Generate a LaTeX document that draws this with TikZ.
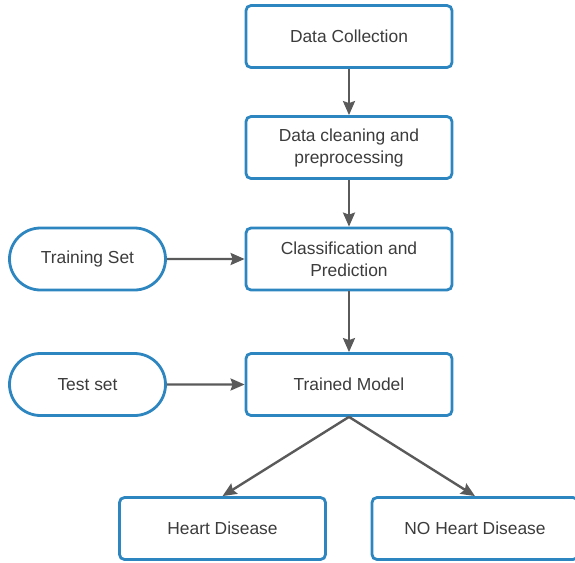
\documentclass[tikz,border=0pt]{standalone}
\usepackage{fontspec}
\setmainfont{Liberation Sans}
\usepackage{tikz}
\usetikzlibrary{arrows.meta,shapes.misc}
\usepackage{xcolor}

\definecolor{boxblue}{RGB}{46,134,193}
\definecolor{textgray}{RGB}{60,60,60}
\definecolor{arrowgray}{RGB}{90,90,90}

\tikzset{
  stepbox/.style={draw=boxblue, line width=1.4pt, rounded corners=2.5pt, fill=white,
    minimum width=103pt, minimum height=31pt, align=center, text=textgray,
    font=\fontsize{8.7}{11}\selectfont, inner sep=2pt},
  setbox/.style={draw=boxblue, line width=1.4pt, rounded rectangle, fill=white,
    minimum width=82pt, minimum height=31pt, align=center, text=textgray,
    font=\fontsize{8.7}{11}\selectfont, inner sep=2pt},
  flow/.style={draw=arrowgray, line width=1.2pt, -{Stealth[length=7pt,width=6pt,inset=1pt]}}
}

\begin{document}
\begin{tikzpicture}[x=0.5pt,y=-0.5pt]

  \useasboundingbox (0,0) rectangle (575,563);

  \coordinate (DC) at (349,36.5);
  \coordinate (CL) at (349,147.5);
  \coordinate (CP) at (349,259);
  \coordinate (TM) at (349,384.5);
  \coordinate (TS) at (87.5,259);
  \coordinate (TE) at (87.5,384.5);
  \coordinate (HD) at (222.5,528.5);
  \coordinate (NH) at (475,528.5);

  \node[stepbox] (collect) at (DC) {Data Collection};
  \node[stepbox] (clean) at (CL) {Data cleaning and\\preprocessing};
  \node[stepbox] (classify) at (CP) {Classification and\\Prediction};
  \node[stepbox] (model) at (TM) {Trained Model};
  \node[setbox] (trainset) at (TS) {Training Set};
  \node[setbox] (testset) at (TE) {Test set};
  \node[stepbox] (heart) at (HD) {Heart Disease};
  \node[stepbox] (noheart) at (NH) {NO Heart Disease};

  \draw[flow] (collect) -- (clean);
  \draw[flow] (clean) -- (classify);
  \draw[flow] (classify) -- (model);
  \draw[flow] (trainset) -- (classify);
  \draw[flow] (testset) -- (model);
  \draw[flow] (model.south) -- (heart.north);
  \draw[flow] (model.south) -- (noheart.north);

\end{tikzpicture}
\end{document}
